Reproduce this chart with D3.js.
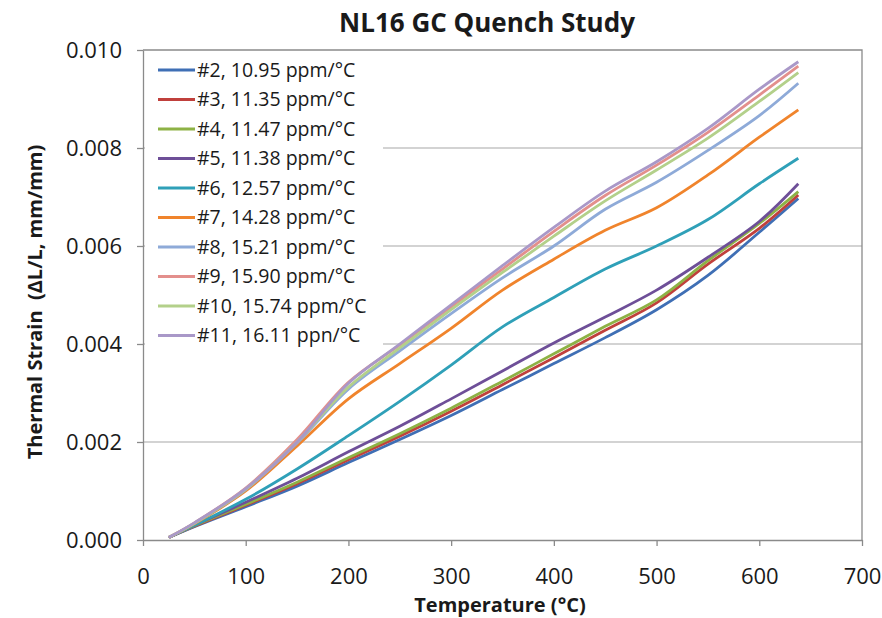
<!DOCTYPE html>
<html>
<head>
<meta charset="utf-8">
<script src="https://cdn.jsdelivr.net/npm/d3@7"></script>
<style>
  body { margin: 0; background: #fff; }
  text { font-family: "Open Sans", Lato, sans-serif; fill: #1a1a1a; }
</style>
</head>
<body>
<svg id="svg"></svg>
<script>
const temps = [25, 50, 100, 150, 200, 250, 300, 350, 400, 450, 500, 550, 600, 638];

const seriesNames = ["#2, 10.95 ppm/°C", "#3, 11.35 ppm/°C", "#4, 11.47 ppm/°C", "#5, 11.38 ppm/°C",
                     "#6, 12.57 ppm/°C", "#7, 14.28 ppm/°C", "#8, 15.21 ppm/°C", "#9, 15.90 ppm/°C",
                     "#10, 15.74 ppm/°C", "#11, 16.11 ppn/°C"];

const s2  = [0.00005, 0.00027, 0.00068, 0.00110, 0.00158, 0.00205, 0.00254, 0.00307, 0.00360, 0.00413, 0.00470, 0.00540, 0.00628, 0.00697];
const s3  = [0.00005, 0.00028, 0.00071, 0.00115, 0.00164, 0.00212, 0.00263, 0.00317, 0.00372, 0.00428, 0.00484, 0.00563, 0.00636, 0.00704];
const s4  = [0.00005, 0.00029, 0.00073, 0.00118, 0.00168, 0.00217, 0.00269, 0.00324, 0.00380, 0.00436, 0.00490, 0.00570, 0.00646, 0.00711];
const s5  = [0.00005, 0.00030, 0.00077, 0.00126, 0.00180, 0.00232, 0.00288, 0.00345, 0.00402, 0.00455, 0.00510, 0.00577, 0.00650, 0.00727];
const s6  = [0.00005, 0.00030, 0.00083, 0.00145, 0.00213, 0.00283, 0.00357, 0.00435, 0.00495, 0.00553, 0.00600, 0.00654, 0.00727, 0.00779];
const s7  = [0.00005, 0.00033, 0.00100, 0.00192, 0.00288, 0.00360, 0.00432, 0.00510, 0.00573, 0.00632, 0.00678, 0.00745, 0.00822, 0.00878];
const s8  = [0.00005, 0.00034, 0.00103, 0.00198, 0.00308, 0.00386, 0.00462, 0.00535, 0.00600, 0.00675, 0.00730, 0.00795, 0.00866, 0.00932];
const s9  = [0.00005, 0.00035, 0.00106, 0.00205, 0.00322, 0.00398, 0.00476, 0.00553, 0.00630, 0.00703, 0.00765, 0.00832, 0.00908, 0.00967];
const s10 = [0.00005, 0.00034, 0.00104, 0.00200, 0.00312, 0.00392, 0.00470, 0.00546, 0.00620, 0.00692, 0.00755, 0.00820, 0.00895, 0.00954];
const s11 = [0.00005, 0.00035, 0.00105, 0.00200, 0.00320, 0.00400, 0.00480, 0.00560, 0.00638, 0.00712, 0.00772, 0.00840, 0.00920, 0.00976];

const seriesColors = ["#3f6fb5", "#c0403c", "#8db245", "#6e4f98", "#2fa0b8", "#f0842c",
                      "#8eaad8", "#e38f8c", "#b3d08a", "#a998c8"];

const xTicks = [0, 100, 200, 300, 400, 500, 600, 700];
const yTicks = [0, 0.002, 0.004, 0.006, 0.008, 0.010];

const allSeries = [s2, s3, s4, s5, s6, s7, s8, s9, s10, s11];

const width = 882;
const height = 618;
const margin = {top: 50, right: 20, bottom: 78, left: 143};

const svg = d3.select("#svg")
              .attr("width", width)
              .attr("height", height);

const x = d3.scaleLinear()
            .domain([0, 700])
            .range([margin.left, width - margin.right]);

const y = d3.scaleLinear()
            .domain([0, 0.010])
            .range([height - margin.bottom, margin.top]);

// gridlines
svg.append("g")
   .selectAll("line")
   .data(yTicks.slice(1, -1))
   .enter()
   .append("line")
   .attr("x1", x(0))
   .attr("x2", x(700))
   .attr("y1", d => y(d))
   .attr("y2", d => y(d))
   .style("stroke", "#c4c4c4")
   .style("stroke-width", 1.3);

// frame top/right
svg.append("path")
   .attr("d", `M${x(0)},${y(0.010)}H${x(700)}V${y(0)}`)
   .style("fill", "none")
   .style("stroke", "#8a8a8a")
   .style("stroke-width", 1.3);

const xAxis = svg.append("g")
                 .attr("transform", "translate(0," + y(0) + ")")
                 .call(d3.axisBottom(x).tickValues(xTicks).tickSize(6).tickSizeOuter(0).tickPadding(22));

const yAxis = svg.append("g")
                 .attr("transform", "translate(" + x(0) + ",0)")
                 .call(d3.axisLeft(y).tickValues(yTicks).tickFormat(d3.format(".3f")).tickSize(6).tickSizeOuter(0).tickPadding(15));

[xAxis, yAxis].forEach(ax => {
  ax.selectAll("path, line").style("stroke", "#8a8a8a").style("stroke-width", 1.3);
  ax.selectAll("text").style("font-size", "22px").style("font-family", "'Open Sans', sans-serif").style("fill", "#1a1a1a");
});

const line = d3.line()
               .x((d, i) => x(temps[i]))
               .y(d => y(d))
               .curve(d3.curveCatmullRom.alpha(0.5));

svg.append("g")
   .selectAll("path")
   .data(allSeries)
   .enter()
   .append("path")
   .attr("d", d => line(d))
   .style("fill", "none")
   .style("stroke", (d, i) => seriesColors[i])
   .style("stroke-width", 2.8);

// legend
const legend = svg.append("g");

legend.append("rect")
      .attr("x", x(0) + 2)
      .attr("y", 54)
      .attr("width", 238)
      .attr("height", 300)
      .style("fill", "#fff");

const rows = legend.selectAll("g")
                   .data(seriesNames)
                   .enter()
                   .append("g")
                   .attr("transform", (d, i) => "translate(158," + (70 + i * 29.5) + ")");

rows.append("line")
    .attr("x1", 0)
    .attr("x2", 37)
    .style("stroke", (d, i) => seriesColors[i])
    .style("stroke-width", 2.8);

rows.append("text")
    .attr("x", 39)
    .attr("dy", "0.35em")
    .style("font-size", "19.5px")
    .text(d => d);

svg.append("text")
   .attr("x", 487)
   .attr("y", 32)
   .attr("text-anchor", "middle")
   .style("font-size", "26px")
   .style("font-weight", "bold")
   .text("NL16 GC Quench Study");

svg.append("text")
   .attr("x", 500)
   .attr("y", 612)
   .attr("text-anchor", "middle")
   .style("font-size", "20px")
   .style("font-weight", "bold")
   .text("Temperature (°C)");

svg.append("text")
   .attr("transform", "translate(42," + 302 + ") rotate(-90)")
   .attr("text-anchor", "middle")
   .style("font-size", "20px")
   .style("font-weight", "bold")
   .style("white-space", "pre")
   .text("Thermal Strain  (ΔL/L, mm/mm)");
</script>
</body>
</html>
